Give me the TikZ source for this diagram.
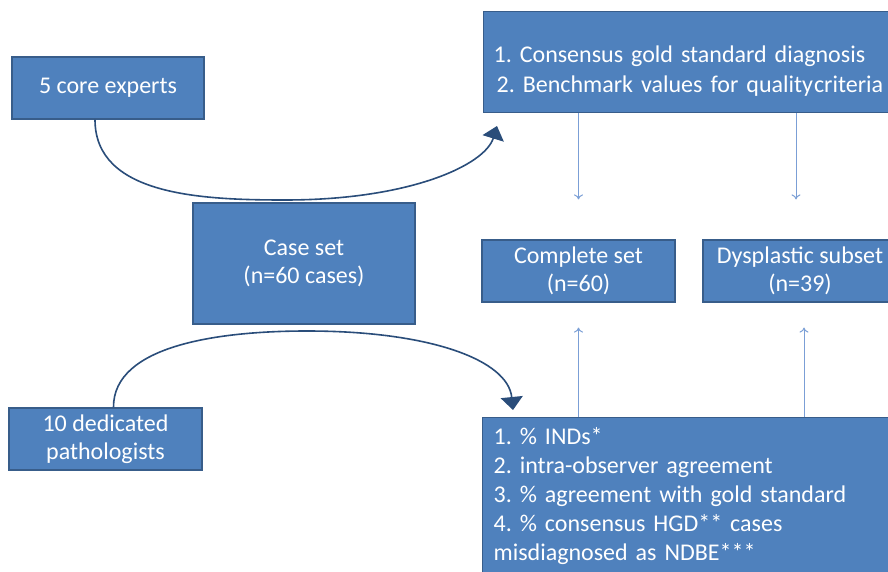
\documentclass[tikz,border=0pt]{standalone}
\usepackage{fontspec}
\setmainfont{Carlito}
\usetikzlibrary{positioning, arrows.meta, calc}

\definecolor{boxblue}{HTML}{4F81BD}
\definecolor{boxedge}{HTML}{385D8A}
\definecolor{curveblue}{HTML}{2A4D7A}
\definecolor{thinblue}{HTML}{7B9FD6}

\begin{document}
\frenchspacing
\begin{tikzpicture}[x=1pt, y=-1pt,
    box/.style={draw=boxedge, line width=1.2pt, fill=boxblue, text=white,
      font=\fontsize{24}{28}\selectfont, inner sep=0pt},
    bend arrow/.style={draw=curveblue, line width=1.6pt, -{Triangle[width=22pt,length=13pt]}},
    thin arrow/.style={draw=thinblue, line width=1pt, -{To[length=5pt,width=9pt]}}]
  \clip (0,0) rectangle (888,572);
  \fill[white] (0,0) rectangle (888,572);

  % left column
  \node[box, minimum width=192pt, minimum height=62pt] (experts) at (108,88) {5 core experts};
  \node[box, minimum width=222pt, minimum height=121pt, align=center] (caseset) at (304,263.5) {Case set\\(n=60 cases)};
  \node[box, minimum width=193pt, minimum height=62pt, align=center] (pathol) at (105.5,439) {10 dedicated\\pathologists};

  % right column
  \node[box, anchor=north west, minimum height=101pt, text width=402pt, inner xsep=10pt, align=left,
    font=\fontsize{24}{30}\selectfont] (goldstd) at (483,11)
    {\rule{0pt}{34pt}1. Consensus gold standard diagnosis\\
     \hspace*{3pt}2. Benchmark values for quality\hspace{1pt}criteria};
  \node[box, minimum width=193pt, minimum height=62pt, align=center] (complete) at (578.5,271) {Complete set\\(n=60)};
  \node[box, minimum width=194pt, minimum height=62pt, align=center] (dysplastic) at (800,271) {Dysplastic subset\\(n=39)};
  \node[box, anchor=north west, text width=400pt, inner xsep=11pt, inner ysep=10pt, align=left,
    font=\fontsize{24}{29}\selectfont] (measures) at (482,417)
    {1. \% INDs*\\2. intra-observer agreement\\3. \% agreement with gold standard\\4. \% consensus HGD** cases\\misdiagnosed as NDBE***};

  % curved arrows
  \coordinate (tipA) at (497,126);
  \coordinate (tipB) at (513,410);
  \draw[bend arrow] ([xshift=-13pt]experts.south) .. controls (95,195) and (200,200) .. (285,200)
    .. controls (410,200) and (485,165) .. (tipA);
  \draw[bend arrow] ([xshift=8pt]pathol.north) .. controls (113,345) and (220,331) .. (307,331)
    .. controls (430,331) and (508,360) .. (tipB);

  % thin arrows
  \coordinate (cdown) at ([yshift=40pt]complete.north);
  \coordinate (ddown) at ([xshift=-4pt,yshift=40pt]dysplastic.north);
  \coordinate (cup) at ([yshift=-25pt]complete.south);
  \coordinate (dup) at ([xshift=4pt,yshift=-25pt]dysplastic.south);
  \draw[thin arrow] (goldstd.south -| cdown) -- (cdown);
  \draw[thin arrow] (goldstd.south -| ddown) -- (ddown);
  \draw[thin arrow] (measures.north -| cup) -- (cup);
  \draw[thin arrow] (measures.north -| dup) -- (dup);
\end{tikzpicture}
\end{document}
